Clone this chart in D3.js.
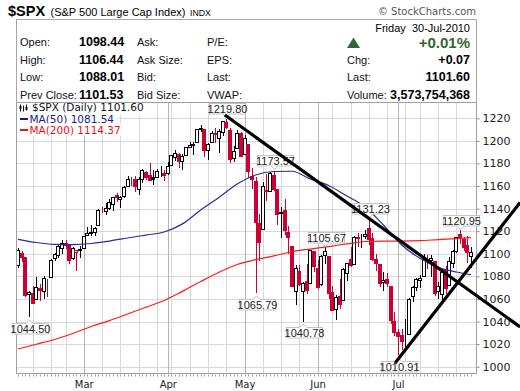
<!DOCTYPE html>
<html>
<head>
<meta charset="utf-8">
<script src="https://cdn.jsdelivr.net/npm/d3@7"></script>
<style>
  body { margin: 0; background: #fff; }
  svg { display: block; font-family: "Liberation Sans", Arial, sans-serif; }
</style>
</head>
<body>
<svg id="chart" width="520" height="391"></svg>
<script>
// daily candles, $SPX Feb-Jul 2010
const dates = [
  "2010-02-02","2010-02-03","2010-02-04","2010-02-05","2010-02-08","2010-02-09","2010-02-10","2010-02-11","2010-02-12",
  "2010-02-16","2010-02-17","2010-02-18","2010-02-19","2010-02-22","2010-02-23","2010-02-24","2010-02-25","2010-02-26",
  "2010-03-01","2010-03-02","2010-03-03","2010-03-04","2010-03-05","2010-03-08","2010-03-09","2010-03-10","2010-03-11","2010-03-12",
  "2010-03-15","2010-03-16","2010-03-17","2010-03-18","2010-03-19","2010-03-22","2010-03-23","2010-03-24","2010-03-25","2010-03-26",
  "2010-03-29","2010-03-30","2010-03-31",
  "2010-04-01","2010-04-05","2010-04-06","2010-04-07","2010-04-08","2010-04-09","2010-04-12","2010-04-13","2010-04-14","2010-04-15",
  "2010-04-16","2010-04-19","2010-04-20","2010-04-21","2010-04-22","2010-04-23","2010-04-26","2010-04-27","2010-04-28","2010-04-29","2010-04-30",
  "2010-05-03","2010-05-04","2010-05-05","2010-05-06","2010-05-07","2010-05-10","2010-05-11","2010-05-12","2010-05-13","2010-05-14",
  "2010-05-17","2010-05-18","2010-05-19","2010-05-20","2010-05-21","2010-05-24","2010-05-25","2010-05-26","2010-05-27","2010-05-28",
  "2010-06-01","2010-06-02","2010-06-03","2010-06-04","2010-06-07","2010-06-08","2010-06-09","2010-06-10","2010-06-11",
  "2010-06-14","2010-06-15","2010-06-16","2010-06-17","2010-06-18","2010-06-21","2010-06-22","2010-06-23","2010-06-24","2010-06-25",
  "2010-06-28","2010-06-29","2010-06-30",
  "2010-07-01","2010-07-02","2010-07-06","2010-07-07","2010-07-08","2010-07-09","2010-07-12","2010-07-13","2010-07-14","2010-07-15",
  "2010-07-16","2010-07-19","2010-07-20","2010-07-21","2010-07-22","2010-07-23","2010-07-26","2010-07-27","2010-07-28","2010-07-29","2010-07-30"
];
const opens = [
  1090.05,1100.67,1097.25,1064.12,1065.51,1060.06,1069.68,1067.10,1075.95,1079.13,1096.14,1099.03,1105.49,1110.00,1107.49,1095.89,1101.24,1103.10,
  1105.36,1117.01,1119.36,1119.12,1125.12,1138.40,1137.56,1140.22,1143.96,1151.71,1148.53,1150.83,1159.94,1166.13,1166.68,1157.25,1166.47,1172.70,1170.03,1167.58,1167.71,1173.75,1171.75,
  1171.23,1178.71,1186.01,1188.23,1181.75,1187.47,1194.94,1195.94,1198.69,1210.77,1210.17,1192.06,1199.04,1207.16,1202.52,1207.87,1217.07,1209.92,1184.59,1193.30,1206.77,
  1188.58,1197.50,1169.24,1164.38,1127.04,1122.27,1156.39,1155.43,1170.04,1157.19,1136.52,1138.78,1119.57,1107.34,1067.26,1084.78,1067.42,1075.51,1074.27,1102.59,
  1087.30,1073.01,1098.82,1098.43,1065.84,1050.81,1062.75,1058.77,1082.65,1095.00,1091.21,1114.02,1115.98,1116.16,1122.79,1113.90,1095.57,1090.93,1075.10,1077.50,1071.10,1040.56,
  1031.10,1027.65,1028.09,1028.54,1062.92,1070.50,1077.23,1080.65,1095.61,1094.46,1093.85,1066.85,1064.53,1086.67,1072.14,1092.17,1102.89,1117.36,1112.84,1108.07,1098.44
];
const highs = [
  1104.73,1102.72,1097.25,1067.13,1071.20,1079.28,1073.67,1080.04,1077.81,1095.67,1101.03,1108.24,1112.42,1112.29,1108.58,1106.42,1103.50,1107.24,
  1116.11,1123.46,1125.64,1123.73,1139.38,1141.05,1145.37,1148.26,1150.24,1153.41,1150.98,1160.28,1169.20,1167.77,1169.20,1167.82,1174.72,1173.04,1180.69,1173.93,1174.85,1177.83,1174.56,
  1181.43,1187.73,1191.80,1189.60,1188.55,1194.66,1199.20,1199.04,1210.65,1213.92,1210.17,1197.87,1208.58,1210.99,1210.27,1217.28,1219.80,1211.38,1195.05,1209.36,1207.99,
  1205.13,1197.50,1175.95,1167.58,1135.13,1163.85,1170.48,1172.87,1173.57,1157.19,1141.88,1148.66,1124.27,1107.34,1090.16,1089.95,1074.75,1090.75,1103.52,1102.59,
  1094.77,1098.56,1105.67,1098.43,1071.36,1063.15,1077.74,1087.85,1092.25,1105.91,1115.59,1118.74,1117.72,1121.01,1131.23,1118.50,1099.64,1090.93,1083.56,1082.60,1071.10,1048.08,
  1033.58,1032.95,1042.50,1060.89,1071.25,1078.16,1080.78,1099.46,1099.08,1098.66,1093.85,1074.70,1083.94,1088.96,1097.50,1103.73,1115.01,1120.95,1114.66,1115.90,1106.44
];
const lows = [
  1087.96,1093.97,1062.78,1044.50,1056.51,1060.06,1059.34,1060.59,1062.97,1079.13,1094.72,1097.48,1100.80,1105.38,1092.18,1095.50,1086.02,1097.56,
  1105.36,1116.51,1116.58,1116.66,1125.12,1136.77,1134.90,1140.09,1138.99,1146.97,1141.45,1150.35,1159.94,1161.16,1155.33,1152.88,1163.83,1166.01,1165.09,1161.48,1167.71,1168.92,1165.77,
  1170.69,1178.71,1182.77,1177.25,1175.12,1187.15,1194.71,1188.82,1198.69,1208.50,1186.77,1183.68,1199.04,1198.85,1190.19,1205.10,1211.07,1181.62,1181.81,1193.30,1186.32,
  1188.58,1168.12,1158.15,1065.79,1094.15,1122.27,1147.71,1155.43,1156.14,1126.14,1114.96,1117.20,1100.66,1071.58,1055.90,1072.70,1040.78,1065.59,1074.27,1084.78,
  1069.89,1072.03,1091.81,1060.50,1049.86,1042.17,1052.25,1058.77,1077.12,1089.03,1091.21,1107.13,1105.87,1113.93,1108.24,1094.18,1085.31,1071.60,1067.89,1071.45,1038.38,1028.33,
  1010.91,1015.93,1018.35,1028.54,1058.24,1068.10,1070.45,1080.65,1087.68,1080.53,1063.32,1061.11,1056.88,1065.25,1072.14,1087.88,1101.30,1109.78,1103.11,1092.82,1088.01
];
const closes = [
  1103.32,1097.28,1063.11,1066.19,1056.74,1070.52,1068.13,1078.47,1075.51,1094.87,1099.51,1106.75,1109.17,1108.01,1094.60,1105.24,1102.94,1104.49,
  1115.71,1118.31,1118.79,1122.97,1138.70,1138.50,1140.45,1145.61,1150.24,1149.99,1150.51,1159.46,1166.21,1165.83,1159.90,1165.81,1174.17,1167.72,1165.73,1166.59,1173.22,1173.27,1169.43,
  1178.10,1187.44,1189.44,1182.45,1186.44,1194.37,1196.48,1197.30,1210.65,1211.67,1192.13,1197.52,1207.17,1205.94,1208.67,1217.28,1212.05,1183.71,1191.36,1206.78,1186.69,
  1202.26,1173.60,1165.87,1128.15,1110.88,1159.73,1155.79,1171.67,1157.44,1135.68,1136.94,1120.80,1115.05,1071.59,1087.69,1073.65,1074.03,1067.95,1103.06,1089.41,
  1070.71,1098.38,1102.83,1064.88,1050.47,1062.00,1055.69,1086.84,1091.60,1089.63,1115.23,1114.61,1116.04,1117.51,1113.20,1095.31,1092.04,1073.69,1076.76,1074.57,1041.24,1030.71,
  1027.37,1022.58,1028.06,1060.27,1070.25,1077.96,1078.75,1095.34,1095.17,1096.48,1064.88,1071.25,1083.48,1069.59,1093.67,1102.66,1115.01,1113.84,1106.13,1101.53,1101.60
];
const closeBeforeFirst = 1089.19;

// moving averages, at every 5th session
const maIndex = [0,5,10,15,20,25,30,35,40,45,50,55,60,65,70,75,80,85,90,95,100,105,110,115,120,124];
const ma50 = [1112.8,1110.0,1108.4,1108.2,1109.1,1111.3,1114.0,1116.6,1119.3,1126.5,1138.8,1149.9,1161.8,1169.8,1172.9,1173.1,1166.2,1160.5,1151.2,1141.4,1125.5,1107.8,1096.0,1088.0,1083.9,1081.54];
const ma200 = [1015.7,1019.9,1024.1,1029.4,1035.6,1040.8,1046.7,1052.6,1058.6,1066.7,1075.4,1083.6,1090.5,1094.8,1098.2,1101.8,1104.2,1106.4,1108.7,1110.9,1111.3,1111.3,1111.6,1112.6,1113.5,1114.37];

const priceTicks = [1000,1020,1040,1060,1080,1100,1120,1140,1160,1180,1200,1220];

// labelled highs / lows
const markDates = ["2010-02-05","2010-04-26","2010-05-06","2010-05-13","2010-05-25","2010-06-03","2010-06-21","2010-07-01","2010-07-27"];
const markKinds = ["low","high","low","high","low","high","high","low","high"];

// hand drawn trend lines: [session index, price]
const trendStart = [[56.6, 1222.9], [103.2, 1003.3]];
const trendEnd   = [[137.4, 1035.3], [137.4, 1145.4]];

const svg = d3.select("#chart");
const parse = d3.timeParse("%Y-%m-%d");
const days = dates.map(parse);
const idxOf = {};
dates.forEach((d, i) => idxOf[d] = i);

const plotL = 16.5, plotR = 476.5, plotT = 102.5, plotB = 373.5;
const x = d3.scaleLinear().domain([0, dates.length - 1]).range([18, 471.1]);
const y = d3.scaleLinear().domain([1000, 1220]).range([366.7, 118.3]);
const px = v => Math.round(v) + 0.5;

const red = "#cc0033";
const green = "#336633";

// ---------- header ----------
svg.append("text").attr("x", 8).attr("y", 15.5)
  .style("font-size", "14.5px").style("font-weight", "bold").text("$SPX");
svg.append("text").attr("x", 50.5).attr("y", 15.5)
  .style("font-size", "11px").text("(S&P 500 Large Cap Index)");
svg.append("text").attr("x", 190).attr("y", 15.5)
  .style("font-size", "8.7px").text("INDX");
svg.append("text").attr("x", 476).attr("y", 15).attr("text-anchor", "end")
  .style("font-size", "10px").style("fill", "#555")
  .style("font-family", "'DejaVu Sans', sans-serif").text("\u00A9 StockCharts.com");

svg.append("rect").attr("x", plotL).attr("y", 19.5)
  .attr("width", plotR - plotL).attr("height", plotT - 19.5)
  .attr("fill", "none").attr("stroke", "#a8a8a8");

const rowY = [46, 63.5, 81, 98.5];
const quoteLabels = [["Open:", "High:", "Low:", "Prev Close:"], ["Ask:", "Ask Size:", "Bid:", "Bid Size:"], ["P/E:", "EPS:", "Last:", "VWAP:"]];
const quoteValues = ["1098.44", "1106.44", "1088.01", "1101.53"];
const labelX = [20, 137, 207];
quoteLabels.forEach((col, c) => {
  col.forEach((t, r) => {
    svg.append("text").attr("x", labelX[c]).attr("y", rowY[r])
      .style("font-size", "11px").style("fill", "#111").text(t);
  });
});
quoteValues.forEach((t, r) => {
  svg.append("text").attr("x", 79).attr("y", rowY[r])
    .style("font-size", "12.5px").style("font-weight", "bold").text(t);
});

svg.append("text").attr("x", 470).attr("y", 31.5).attr("text-anchor", "end")
  .style("font-size", "11px").style("white-space", "pre").text("Friday  30-Jul-2010");
svg.append("path").attr("d", "M347,48 L353.5,37.5 L360,48 Z").attr("fill", green);
svg.append("text").attr("x", 470).attr("y", 48).attr("text-anchor", "end")
  .style("font-size", "15px").style("font-weight", "bold").style("fill", green).text("+0.01%");
const rightLabels = ["Chg:", "Last:", "Volume:"];
const rightValues = ["+0.07", "1101.60", "3,573,754,368"];
rightLabels.forEach((t, r) => {
  svg.append("text").attr("x", 347).attr("y", rowY[r + 1])
    .style("font-size", "11px").style("fill", "#111").text(t);
  svg.append("text").attr("x", 470).attr("y", rowY[r + 1]).attr("text-anchor", "end")
    .style("font-size", "12.5px").style("font-weight", "bold").text(rightValues[r]);
});

// ---------- grid ----------
const grid = svg.append("g");
grid.selectAll(".hgrid").data(priceTicks).enter().append("line")
  .attr("x1", plotL).attr("x2", plotR)
  .attr("y1", d => px(y(d))).attr("y2", d => px(y(d)))
  .attr("stroke", "#d8d8d8");

// month lines and first-session-of-week lines
const monthStarts = [], weekStarts = [];
days.forEach((d, i) => {
  if (i === 0) return;
  const p = days[i - 1];
  if (d.getMonth() !== p.getMonth()) monthStarts.push(i);
  else if (d.getDay() <= p.getDay()) weekStarts.push(i);
});
grid.selectAll(".wgrid").data(weekStarts).enter().append("line")
  .attr("x1", d => px(x(d))).attr("x2", d => px(x(d)))
  .attr("y1", plotT).attr("y2", plotB).attr("stroke", "#d8d8d8");
grid.selectAll(".mgrid").data(monthStarts).enter().append("line")
  .attr("x1", d => px(x(d))).attr("x2", d => px(x(d)))
  .attr("y1", plotT).attr("y2", plotB).attr("stroke", "#b4b4b4");

// ---------- axes ----------
const yAxis = d3.axisRight(y).tickValues(priceTicks).tickFormat(d3.format("d")).tickSize(3).tickPadding(3);
const gy = svg.append("g").attr("transform", `translate(${plotR},0)`).call(yAxis);
gy.select(".domain").remove();
gy.selectAll("line").attr("stroke", "#888");
gy.selectAll("text").style("font-family", "'DejaVu Sans', sans-serif")
  .style("font-size", "11px").attr("fill", "#222");

const monthFmt = d3.timeFormat("%b");
const xAxis = d3.axisBottom(x).tickValues(monthStarts).tickFormat(i => monthFmt(days[i])).tickSize(0).tickPadding(7);
const gx = svg.append("g").attr("transform", `translate(0,${plotB})`).call(xAxis);
gx.select(".domain").remove();
gx.selectAll("text").style("font-family", "'DejaVu Sans', sans-serif")
  .style("font-size", "10px").attr("fill", "#222");

svg.append("g").selectAll("line").data(d3.range(dates.length)).enter().append("line")
  .attr("x1", d => px(x(d))).attr("x2", d => px(x(d)))
  .attr("y1", plotB + 1).attr("y2", plotB + 3).attr("stroke", "#999");

// ---------- candles ----------
const candles = svg.append("g");
dates.forEach((d, i) => {
  const o = opens[i], h = highs[i], l = lows[i], c = closes[i];
  const prev = i === 0 ? closeBeforeFirst : closes[i - 1];
  const col = c < prev ? red : "#000";
  const hollow = c >= o;
  const cx = Math.round(x(i));
  candles.append("line")
    .attr("x1", cx + 0.5).attr("x2", cx + 0.5)
    .attr("y1", Math.round(y(h))).attr("y2", Math.round(y(l)) + 1)
    .attr("stroke", col);
  const yTop = Math.round(y(Math.max(o, c))), yBot = Math.round(y(Math.min(o, c)));
  candles.append("rect")
    .attr("x", cx - 1.5).attr("y", yTop + 0.5)
    .attr("width", 3).attr("height", Math.max(0, yBot - yTop))
    .attr("fill", hollow ? "#fff" : col).attr("stroke", col);
});

// ---------- moving averages ----------
const maLine = d3.line().x(d => x(d[0])).y(d => y(d[1])).curve(d3.curveMonotoneX);
svg.append("path").datum(maIndex.map((k, j) => [k, ma200[j]]))
  .attr("d", maLine).attr("fill", "none").attr("stroke", "#ff1a1a").attr("stroke-width", 1.2);
svg.append("path").datum(maIndex.map((k, j) => [k, ma50[j]]))
  .attr("d", maLine).attr("fill", "none").attr("stroke", "#2a2a9c").attr("stroke-width", 1.2);

// ---------- frame ----------
svg.append("rect").attr("x", plotL).attr("y", plotT)
  .attr("width", plotR - plotL).attr("height", plotB - plotT)
  .attr("fill", "none").attr("stroke", "#a0a0a0");

// ---------- legend ----------
const legend = svg.append("g").style("font-family", "'DejaVu Sans', sans-serif").style("font-size", "10.5px");
const legendRows = [
  { text: "$SPX (Daily) 1101.60", color: "#111", y: 111, x: 32 },
  { text: "MA(50) 1081.54", color: "#1a1a8c", y: 122.5, x: 29.5 },
  { text: "MA(200) 1114.37", color: "#ee1111", y: 133.5, x: 29.5 }
];
legendRows.forEach(r => {
  const bg = legend.append("rect").attr("fill", "#fff");
  const t = legend.append("text").attr("x", r.x).attr("y", r.y).attr("fill", r.color).text(r.text);
  const bb = t.node().getBBox();
  bg.attr("x", plotL + 0.5).attr("y", Math.max(plotT + 0.5, bb.y)).attr("width", bb.x + bb.width + 2 - plotL).attr("height", bb.height);
});
legend.append("line").attr("x1", 20).attr("x2", 28).attr("y1", 119).attr("y2", 119).attr("stroke", "#1a1a8c").attr("stroke-width", 2);
legend.append("line").attr("x1", 20).attr("x2", 28).attr("y1", 130).attr("y2", 130).attr("stroke", "#ee1111").attr("stroke-width", 2);
// candle icon
legend.append("path").attr("d", "M20.5,104.5 V111.5 M23.5,105.5 V111.5 M26.5,104.5 V110.5").attr("stroke", "#111");
legend.append("rect").attr("x", 19.5).attr("y", 106).attr("width", 2).attr("height", 3).attr("fill", "#111");
legend.append("rect").attr("x", 25.5).attr("y", 107).attr("width", 2).attr("height", 3).attr("fill", "#111");

// ---------- high / low marks ----------
const marks = svg.append("g");
markDates.forEach((d, j) => {
  const i = idxOf[d];
  const isHigh = markKinds[j] === "high";
  const v = isHigh ? highs[i] : lows[i];
  const cx = Math.round(x(i)) + 0.5;
  const vy = y(v);
  const w = 36, h = 10.5;
  const by = isHigh ? Math.round(vy - 5 - h) + 0.5 : Math.round(vy + 6.5) + 0.5;
  const bx = Math.round(cx - w / 2) + 0.5;
  marks.append("rect").attr("x", bx).attr("y", by).attr("width", w).attr("height", h)
    .attr("fill", "#fff").attr("stroke", "#c4c4c4");
  const edge = isHigh ? by + h : by;
  const tip = isHigh ? edge + 3.5 : edge - 3.5;
  marks.append("path")
    .attr("d", `M${cx - 3.5},${edge} L${cx},${tip} L${cx + 3.5},${edge}`)
    .attr("fill", "#fff").attr("stroke", "#c4c4c4");
  marks.append("line").attr("x1", cx - 3).attr("x2", cx + 3).attr("y1", edge).attr("y2", edge).attr("stroke", "#fff");
  marks.append("text").attr("x", bx + w / 2).attr("y", by + h - 1.5).attr("text-anchor", "middle")
    .style("font-family", "'Liberation Sans Narrow', 'Liberation Sans', sans-serif")
    .style("font-size", "11px").attr("fill", "#222").text(v.toFixed(2));
});

// ---------- trend lines ----------
trendStart.forEach((s, k) => {
  const e = trendEnd[k];
  svg.append("line")
    .attr("x1", x(s[0])).attr("y1", y(s[1]))
    .attr("x2", x(e[0])).attr("y2", y(e[1]))
    .attr("stroke", "#000").attr("stroke-width", 3.2);
});
</script>
</body>
</html>
